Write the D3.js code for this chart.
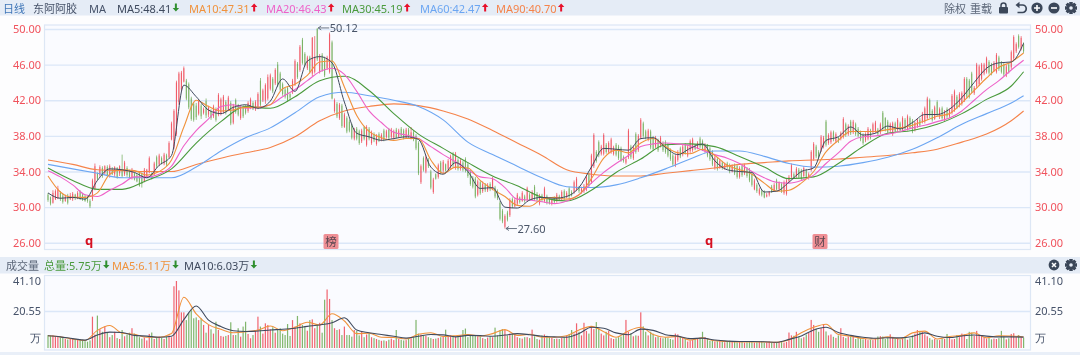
<!DOCTYPE html>
<html>
<head>
<meta charset="utf-8">
<script src="https://cdn.jsdelivr.net/npm/d3@7"></script>
<style>
  html, body { margin: 0; padding: 0; background: #fff; overflow: hidden; }
  svg { display: block; font-family: "Noto Sans", "Noto Sans CJK SC", sans-serif; filter: blur(0.3px); }
</style>
</head>
<body>
<div id="chart"></div>
<script>
// candles (10 bars a row)
const highs = [
  31.6,31.2,31.9,32.0,32.4,31.8,31.5,31.4,31.5,31.6,
  31.7,31.5,31.8,31.9,31.6,31.4,31.3,30.9,33.2,34.9,
  33.9,34.7,34.6,34.7,34.7,34.8,34.5,34.6,34.5,34.7,
  35.9,35.2,34.6,34.2,34.4,33.9,33.8,34.0,33.9,34.4,
  34.3,35.7,33.9,35.1,35.8,36.0,35.7,36.1,36.0,37.4,
  39.6,41.0,44.2,45.2,45.3,45.8,44.4,44.0,42.4,41.8,
  41.7,42.1,41.6,41.2,42.2,41.4,41.0,41.5,41.2,42.8,
  42.3,42.6,42.0,42.5,41.9,41.6,42.2,41.6,41.4,41.4,
  41.5,41.9,42.3,41.9,42.0,42.9,44.5,43.3,43.9,44.9,
  45.0,44.6,45.6,46.3,45.2,44.0,43.4,43.6,42.8,44.4,
  46.6,46.3,48.2,49.0,47.4,47.0,47.0,49.1,49.2,50.12,
  47.2,47.3,46.9,47.0,49.6,48.7,42.2,41.8,41.7,41.6,
  40.6,40.2,39.8,39.4,38.9,39.0,38.7,38.8,39.1,39.2,
  39.0,38.6,38.4,38.2,38.4,38.3,38.8,38.7,38.9,38.9,
  38.7,38.9,38.8,39.0,38.8,38.9,38.9,39.0,38.6,38.2,
  37.4,34.8,35.7,35.8,35.5,34.2,33.3,33.8,34.9,35.2,
  35.3,34.9,35.4,35.9,36.2,36.2,35.5,35.4,35.2,35.6,
  35.0,34.2,33.5,33.4,33.1,33.0,32.9,32.7,32.7,32.8,
  33.4,32.4,32.0,30.7,29.8,29.2,29.6,31.0,31.1,31.0,
  31.6,31.2,31.8,31.4,32.3,31.6,31.9,32.5,31.7,31.5,
  31.5,32.3,31.4,31.0,30.9,31.2,31.6,31.4,31.9,32.0,
  31.8,32.3,31.9,33.0,33.4,32.4,32.3,32.6,33.6,33.9,
  36.0,38.3,36.4,37.5,37.0,38.3,37.2,37.4,37.8,36.9,
  37.2,37.0,36.8,35.8,35.6,38.8,37.0,36.9,38.4,38.2,
  40.0,39.6,38.7,38.8,38.7,38.0,38.0,37.7,38.0,37.4,
  37.5,37.2,36.6,36.0,35.9,36.4,36.8,37.0,37.2,37.0,
  37.6,37.8,37.1,37.4,37.9,37.6,37.2,37.1,36.8,36.4,
  35.8,35.6,35.4,35.2,35.0,35.1,34.9,34.8,34.9,34.8,
  34.6,34.8,34.9,34.5,34.4,33.9,33.2,32.7,32.2,32.0,
  31.9,31.6,31.8,32.5,32.7,33.2,32.9,32.8,33.0,33.2,
  33.6,34.9,33.9,34.5,34.4,34.3,34.6,34.3,33.9,36.4,
  37.3,37.0,36.4,38.1,38.0,39.8,38.3,38.6,38.6,38.4,
  37.9,38.5,40.1,39.5,39.3,39.8,39.8,39.5,39.0,38.6,
  38.3,38.4,39.0,38.8,39.5,39.7,38.9,39.5,40.8,40.1,
  39.8,39.5,39.6,39.6,40.0,39.6,40.2,40.0,40.4,40.2,
  39.9,39.6,40.0,40.0,40.7,41.3,42.4,42.2,41.0,41.4,
  42.0,41.2,41.3,40.9,41.2,41.1,42.7,43.2,42.6,42.9,
  43.0,44.6,44.6,44.4,45.2,43.6,46.2,46.0,46.2,46.2,
  46.9,46.5,46.2,46.4,47.3,47.0,46.4,46.2,46.0,46.2,
  47.6,49.3,48.5,49.4,49.2,48.5
];
const lows = [
  30.6,30.2,30.4,30.8,30.9,30.7,30.4,30.6,30.3,30.8,
  30.7,30.8,30.9,30.8,30.7,30.6,30.5,29.9,30.7,31.9,
  33.0,33.4,33.3,33.6,33.4,33.3,33.6,33.4,33.2,33.5,
  33.3,33.5,33.4,33.2,33.1,33.0,32.8,32.3,32.2,32.8,
  33.3,33.8,33.1,33.5,34.4,34.6,34.8,34.7,34.6,35.5,
  37.5,36.5,38.0,41.5,43.0,44.0,42.0,41.0,39.7,39.6,
  39.8,40.3,39.9,40.4,40.0,40.1,39.8,40.0,39.6,40.2,
  40.3,40.5,40.4,40.8,39.2,39.3,40.5,40.2,39.8,40.0,
  40.4,40.6,41.0,40.9,40.8,41.0,41.2,41.8,41.6,42.0,
  43.1,42.8,43.7,43.5,43.0,42.5,42.2,41.8,42.0,42.7,
  43.6,44.4,45.2,46.0,45.8,45.4,45.0,44.7,45.0,46.4,
  45.0,45.2,44.6,45.4,45.0,42.1,40.6,40.0,39.8,38.9,
  38.9,38.3,38.4,37.6,37.5,37.5,37.0,37.2,37.5,36.8,
  37.5,37.0,37.3,36.9,37.3,37.4,37.4,37.7,37.6,37.7,
  37.6,37.7,37.8,37.9,37.6,37.7,37.8,37.6,37.4,36.4,
  33.6,32.6,34.0,33.8,34.4,32.0,31.5,33.1,33.2,33.7,
  33.8,34.0,34.1,34.3,34.5,34.2,34.1,34.1,34.0,33.9,
  33.3,32.4,32.1,31.0,31.2,31.4,31.6,31.7,31.7,31.8,
  31.9,31.0,30.8,28.5,28.2,27.6,28.4,28.9,29.9,30.0,
  30.2,30.4,30.6,30.5,30.6,30.7,30.8,30.7,30.6,30.2,
  30.6,30.5,30.3,30.3,30.2,30.4,30.5,30.7,30.8,30.8,
  31.0,30.9,31.2,31.5,31.8,31.6,31.5,31.6,31.8,32.2,
  32.6,34.4,35.0,35.6,35.8,35.8,36.0,36.0,36.0,35.8,
  35.7,35.3,35.1,35.0,34.8,35.4,35.4,35.3,36.0,36.2,
  37.6,37.8,37.6,37.4,36.5,36.3,36.6,36.2,36.7,36.2,
  36.0,35.6,35.2,34.6,34.5,35.1,35.5,35.7,35.9,35.6,
  36.0,36.2,36.4,36.5,36.6,36.3,36.1,35.6,35.2,34.6,
  34.2,34.1,34.3,34.2,34.2,34.3,33.8,33.9,33.6,33.2,
  33.2,33.4,33.6,33.3,32.8,32.3,31.9,31.6,31.3,31.2,
  31.0,31.1,31.2,31.6,31.8,31.9,31.8,31.6,31.4,31.3,
  32.8,33.2,33.2,33.3,33.2,33.0,33.3,33.2,33.1,34.0,
  35.2,35.5,35.4,36.2,36.6,36.8,37.0,37.1,37.4,37.2,
  37.2,37.5,37.7,37.9,38.0,38.1,38.2,38.0,37.8,37.4,
  37.0,37.3,37.5,37.6,38.2,38.3,38.0,38.2,38.6,38.5,
  38.2,38.4,38.0,38.3,38.5,38.4,38.5,38.6,38.6,38.8,
  38.3,38.5,38.9,39.0,39.4,39.4,39.8,40.0,39.6,39.8,
  40.2,39.9,39.8,39.6,39.9,40.0,40.4,40.7,41.0,41.2,
  41.4,41.8,42.2,42.2,42.8,42.6,43.4,43.6,44.2,44.8,
  45.0,44.9,44.8,45.2,45.0,45.3,45.0,44.7,44.6,45.0,
  45.5,46.5,47.3,47.8,47.6,47.3
];
const opens = [
  31.4,31.1,30.5,30.9,31.0,31.6,31.3,30.7,31.3,30.9,
  30.9,31.4,31.0,31.7,31.4,31.2,31.1,30.7,30.9,32.1,
  33.8,33.6,34.4,33.8,34.5,33.6,34.2,33.7,34.4,33.8,
  34.2,33.7,34.4,34.0,33.3,33.8,33.6,33.9,33.7,32.9,
  33.4,33.9,33.8,33.7,35.6,34.8,35.5,34.9,35.8,35.6,
  37.6,36.7,38.2,41.8,43.2,44.1,44.2,43.8,42.2,41.6,
  41.4,40.5,41.4,40.6,41.9,40.4,40.8,40.2,41.0,40.4,
  40.5,40.7,41.8,40.9,41.7,39.5,42.0,41.4,40.0,41.2,
  41.3,40.8,41.1,41.7,41.0,41.2,44.2,42.0,42.0,42.2,
  43.3,44.4,43.9,46.0,45.0,43.8,43.2,43.4,42.7,42.9,
  43.8,46.1,45.4,48.8,47.2,45.6,46.8,45.0,45.2,50.0,
  45.2,47.1,46.7,45.6,45.2,48.5,40.8,41.6,40.0,41.4,
  39.0,40.0,39.6,39.2,37.7,38.8,38.5,37.4,39.0,37.0,
  38.8,37.2,38.2,37.1,38.2,37.6,38.6,37.9,38.7,37.9,
  37.8,38.7,37.9,38.8,38.6,37.8,38.7,37.8,38.4,38.0,
  37.2,32.8,35.5,34.0,35.3,34.0,31.7,33.7,33.4,35.0,
  34.1,34.8,34.3,34.5,36.0,34.4,35.3,34.3,35.0,35.4,
  34.8,34.0,33.3,33.2,31.4,32.8,31.8,32.5,31.9,32.6,
  32.0,32.2,31.8,30.5,29.6,27.8,29.4,29.1,30.9,30.1,
  30.4,31.1,30.7,31.2,30.8,31.4,30.9,32.3,31.5,30.4,
  31.3,30.7,31.2,30.9,30.4,31.0,30.7,31.2,30.9,31.8,
  31.1,32.1,31.7,31.7,32.0,32.2,31.7,31.8,32.0,33.7,
  32.8,34.6,36.2,37.3,36.0,36.0,37.0,36.2,36.2,36.0,
  37.0,36.8,36.6,35.6,35.0,35.6,36.8,35.5,38.2,36.4,
  37.8,39.4,38.5,37.6,38.5,37.8,36.8,37.5,36.9,37.2,
  37.3,37.0,36.4,35.8,34.7,35.3,36.6,35.9,37.0,35.8,
  36.3,36.4,37.0,36.6,37.7,37.4,36.3,37.0,36.6,36.2,
  34.4,35.4,34.5,35.0,34.4,34.9,34.7,34.0,34.7,34.6,
  33.4,34.6,33.8,34.3,34.2,33.7,32.0,32.5,31.5,31.8,
  31.8,31.2,31.4,32.3,31.9,33.0,32.0,32.6,31.6,31.5,
  32.9,33.4,33.7,33.5,34.2,34.1,33.5,34.1,33.3,34.2,
  35.4,36.8,36.2,36.4,36.8,39.6,37.2,37.3,38.4,37.4,
  37.8,37.7,37.9,39.3,38.2,39.6,38.4,39.3,38.8,38.4,
  38.1,37.5,37.7,38.6,38.4,38.5,38.7,38.4,40.6,40.0,
  39.6,38.6,38.2,39.4,38.7,39.4,38.7,39.8,38.8,40.0,
  39.7,38.7,39.1,39.8,39.6,39.6,40.0,42.0,40.8,39.9,
  41.8,40.2,41.1,39.8,41.0,40.2,40.6,40.9,42.4,41.4,
  41.6,42.0,44.4,44.2,45.0,42.8,43.6,43.8,44.4,45.0,
  45.2,46.3,46.0,45.3,45.2,46.8,46.2,46.0,44.8,46.0,
  45.7,46.7,47.5,49.2,47.8,48.3
];
const closes = [
  30.8,30.4,31.6,31.8,32.1,30.9,30.6,31.2,30.5,31.3,
  31.5,31.0,31.6,31.0,30.9,30.7,30.7,30.1,33.0,34.6,
  33.2,34.5,33.5,34.6,33.6,34.6,33.7,34.5,33.4,34.6,
  33.5,35.0,33.6,33.3,34.2,33.1,32.9,32.4,32.6,34.2,
  34.2,35.5,33.2,34.9,34.6,35.8,34.9,35.9,34.8,37.2,
  39.4,40.8,44.0,45.0,45.1,45.6,42.2,41.2,39.9,39.8,
  40.1,41.9,40.2,41.0,40.3,41.2,40.0,41.3,39.8,42.6,
  42.1,42.4,40.6,42.3,39.4,41.4,40.7,40.4,41.2,40.2,
  40.6,41.7,42.1,41.0,41.8,42.7,41.5,43.1,43.7,44.6,
  44.8,43.0,45.4,43.7,43.2,42.7,42.4,42.0,42.3,44.2,
  46.4,44.6,48.0,46.2,46.0,46.8,45.2,49.0,46.8,46.6,
  47.0,45.4,44.8,46.8,49.4,42.2,42.0,40.2,41.5,39.1,
  40.4,38.5,38.6,37.8,38.7,37.7,37.2,38.6,37.7,39.0,
  37.7,38.4,37.5,38.0,37.5,38.1,37.6,38.5,37.8,38.7,
  38.5,37.8,38.6,38.0,37.8,38.7,37.9,38.4,37.6,36.6,
  33.8,34.6,34.2,35.6,34.6,32.2,33.1,33.2,34.7,33.9,
  35.1,34.1,35.2,35.7,34.7,36.0,34.3,35.2,34.2,34.1,
  33.5,32.6,32.3,31.2,32.9,31.6,32.6,31.9,32.5,32.0,
  33.2,31.2,31.0,28.7,28.4,29.0,28.6,30.8,30.1,30.8,
  31.4,30.6,31.6,30.7,32.1,30.8,31.7,30.9,30.8,31.3,
  30.8,32.1,30.5,30.4,30.8,30.6,31.4,30.9,31.7,31.0,
  31.6,31.2,31.3,32.8,33.2,31.8,32.1,32.4,33.4,32.4,
  35.8,38.1,35.2,35.8,36.8,38.1,36.2,37.2,37.6,36.7,
  35.9,35.5,35.3,35.2,35.4,38.6,35.6,36.7,36.2,38.0,
  39.8,38.0,37.8,38.6,36.7,36.5,37.8,36.4,37.8,36.4,
  36.2,35.8,35.4,34.8,35.7,36.2,35.7,36.8,36.1,36.8,
  37.4,37.6,36.5,37.2,36.8,36.5,37.0,35.8,35.4,34.8,
  35.6,34.3,35.2,34.4,34.8,34.5,34.0,34.6,33.8,33.4,
  34.4,33.6,34.7,33.5,33.0,32.5,33.0,31.8,32.0,31.4,
  31.1,31.4,31.7,31.7,32.5,32.0,32.7,31.8,32.8,33.0,
  33.4,34.7,33.3,34.3,33.4,33.2,34.4,33.4,33.7,36.2,
  37.1,35.7,35.6,37.9,37.8,37.0,38.1,38.4,37.6,38.2,
  37.4,38.3,39.9,38.1,39.1,38.3,39.6,38.2,38.0,37.6,
  37.2,38.2,38.8,37.8,39.3,39.5,38.2,39.3,38.8,38.7,
  38.4,39.3,39.4,38.5,39.8,38.6,40.0,38.8,40.2,38.9,
  38.5,39.5,39.8,39.2,40.5,41.1,42.2,40.3,39.8,41.2,
  40.4,41.0,40.0,40.7,40.2,40.9,42.5,43.0,41.2,42.7,
  42.8,44.4,42.4,42.4,43.0,43.4,46.0,45.8,46.0,46.0,
  46.7,45.1,45.0,46.2,47.1,45.5,45.2,44.9,45.8,45.2,
  47.4,49.1,48.3,48.0,49.0,47.5
];
const volumes = [
  7.2,6.8,7.0,6.5,6.2,5.8,5.6,5.0,4.7,5.2,
  5.0,4.6,4.4,4.8,4.6,3.8,3.5,4.2,17.4,7.5,
  18.0,10.4,9.0,12.0,8.5,6.0,7.2,9.0,5.5,5.0,
  10.0,6.5,7.5,8.5,11.0,8.0,7.2,6.0,5.2,5.8,
  4.2,7.8,8.6,5.0,5.8,6.4,5.6,5.0,6.2,7.0,
  6.0,37.5,41.1,34.7,19.8,19.8,15.5,19.6,21.4,16.5,
  17.0,15.5,16.5,12.8,8.5,12.8,10.4,8.0,14.6,10.0,
  6.7,6.3,6.7,7.2,14.3,7.2,7.2,11.0,6.3,11.9,
  14.6,7.8,5.4,7.2,10.0,17.4,11.9,8.0,13.7,12.8,
  10.4,11.5,8.5,10.0,11.0,8.0,7.2,13.3,6.7,15.5,
  11.9,17.8,13.7,12.8,11.9,9.6,15.5,15.9,11.0,12.8,
  14.0,8.5,28.3,35.3,28.8,15.5,11.0,10.0,10.4,7.2,
  11.9,7.2,7.2,6.3,10.0,9.5,7.0,9.0,6.0,7.5,
  8.0,6.0,5.5,5.0,4.5,4.0,4.2,3.8,4.6,5.2,
  4.4,10.0,5.0,4.6,4.2,4.4,5.0,5.5,6.0,15.6,
  8.0,7.5,7.0,6.8,6.0,5.5,5.0,5.2,5.6,6.0,
  6.2,10.2,6.5,7.0,6.8,6.4,6.0,7.0,10.0,10.8,
  6.0,7.2,7.0,6.8,6.5,6.2,5.5,5.0,5.8,6.5,
  6.0,11.3,7.0,10.0,10.5,10.0,7.0,8.0,8.0,7.5,
  6.0,5.5,5.2,6.0,6.0,5.5,10.2,6.5,5.0,4.6,
  7.0,7.5,6.8,6.0,5.6,5.0,5.2,5.0,5.6,6.0,
  7.0,7.6,10.0,8.0,13.7,9.0,7.0,14.0,9.5,8.0,
  12.0,10.5,14.4,11.0,8.0,7.0,9.0,9.5,5.5,5.0,
  5.4,6.0,6.4,7.6,15.6,9.0,8.2,6.5,7.0,6.8,
  19.8,12.0,9.0,7.0,9.0,8.0,6.0,6.5,5.8,5.4,
  6.0,5.5,5.0,4.6,8.0,7.6,6.4,5.8,5.0,3.6,
  4.0,4.4,5.0,5.4,5.6,9.0,6.0,5.4,4.0,4.2,
  3.6,3.8,4.2,3.6,3.2,3.8,4.0,3.6,3.4,3.2,
  3.4,3.6,3.0,3.2,3.8,3.4,3.0,3.2,3.6,3.8,
  3.0,3.2,3.6,3.2,2.8,3.0,3.4,3.6,3.0,3.4,
  8.6,7.0,6.8,9.0,6.2,5.4,6.0,7.5,8.4,15.6,
  12.8,10.8,9.0,11.0,13.3,9.2,7.0,7.5,6.2,5.6,
  7.0,11.0,6.2,5.5,6.4,7.0,6.8,5.0,6.0,5.4,
  4.8,5.0,4.4,4.6,4.4,5.2,6.4,6.6,6.4,5.0,
  5.8,7.6,6.2,5.0,5.4,4.6,5.0,6.2,4.6,5.4,
  7.0,8.0,10.0,9.5,8.8,7.6,6.5,5.5,4.6,5.0,
  4.6,4.4,5.2,5.0,7.8,6.4,4.8,5.0,7.2,6.0,
  8.0,7.6,5.0,9.0,8.5,6.8,9.5,7.0,7.2,6.0,
  5.2,6.0,4.8,5.2,5.0,5.5,9.5,6.4,4.8,5.4,
  7.8,8.2,6.4,7.2,6.0,5.75
];

// averages, sampled every 5 bars (fast) or every 10 bars (slow)
const fastIdx = d3.range(0, 396, 5);
const slowIdx = d3.range(0, 391, 10).concat(395);

const ma5 = [31.6,31.0,31.1,30.9,33.0,34.3,34.2,33.9,33.3,34.7,35.8,43.7,42.4,40.9,40.5,41.2,41.5,41.1,41.9,44.4,
  43.0,46.4,46.9,46.2,41.8,38.3,37.9,37.5,37.7,37.9,37.6,34.5,33.7,35.0,34.0,32.1,32.2,30.0,29.9,30.8,
  31.1,31.0,31.2,32.2,34.5,36.6,36.5,36.4,37.7,37.8,36.7,35.9,36.6,37.1,35.2,34.2,34.0,33.9,31.7,31.8,
  32.8,34.0,34.4,37.5,37.9,39.0,38.1,38.3,39.1,38.8,39.5,40.4,40.4,41.0,42.3,44.0,45.6,46.2,46.3,48.4];
const ma10 = [33.5,31.7,31.1,31.1,31.6,33.7,34.2,34.1,33.6,34.0,35.3,39.0,42.0,41.3,40.8,40.9,41.2,41.2,41.5,43.3,
  43.8,44.8,46.3,46.4,43.5,40.3,38.5,37.8,37.5,37.7,37.7,35.3,33.8,34.5,34.4,33.0,32.0,31.2,30.2,30.1,
  30.9,31.1,30.9,31.4,33.2,35.5,36.4,36.1,37.2,37.7,36.8,36.1,36.0,36.5,35.8,34.7,34.2,33.7,32.7,31.8,
  31.9,32.7,34.0,36.2,37.5,38.5,38.5,38.5,38.7,38.9,39.2,39.7,40.2,40.5,41.7,43.1,44.5,45.7,46.3,47.3];
const ma20 = [34.1,33.4,32.5,31.4,31.2,31.9,32.6,33.4,33.4,33.7,34.6,36.9,38.6,39.9,41.3,41.5,41.1,41.2,41.5,42.4,
  43.2,44.2,45.2,45.6,44.9,43.0,40.8,39.5,38.4,38.1,37.7,36.8,35.9,35.1,34.2,33.4,33.2,32.2,30.9,30.8,
  30.6,30.4,30.7,31.4,32.7,33.9,34.9,35.8,36.8,37.1,37.2,37.1,36.9,36.4,35.9,35.5,34.9,34.0,33.3,32.8,
  32.7,33.0,33.6,34.9,36.1,37.4,37.9,38.0,38.2,38.5,38.9,39.2,39.6,40.0,40.8,42.0,43.2,44.2,45.4,46.5];
const ma30 = [34.4,33.0,32.0,32.0,33.0,34.3,37.2,39.6,41.3,41.1,42.4,44.2,44.7,43.1,40.5,38.2,36.6,35.0,33.5,32.4,
  31.1,30.7,31.9,33.9,35.4,37.0,37.1,36.8,35.7,34.5,33.2,33.4,34.9,36.8,38.3,38.6,39.3,40.5,42.1,43.6,45.2];
const ma60 = [34.8,34.3,33.8,33.3,33.3,33.3,34.5,36.3,37.8,38.9,40.6,42.4,42.9,42.5,42.0,41.3,39.8,37.3,35.9,34.6,
  33.3,32.3,32.2,32.5,33.3,34.3,35.4,36.3,36.3,35.7,34.9,34.5,34.6,35.0,35.6,36.5,37.8,39.3,40.5,41.7,42.5];
const ma90 = [35.3,34.8,34.2,34.1,34.0,34.0,34.8,35.5,36.1,36.7,37.9,39.7,40.8,41.3,41.6,41.4,40.8,39.9,38.6,37.2,
  35.8,34.2,33.7,33.5,33.5,33.8,34.1,34.4,34.8,35.0,35.2,35.3,35.4,35.6,35.8,36.1,36.5,37.3,38.2,39.7,40.8];

const volMa5 = [6.8,6.2,5.0,4.2,9.8,12.5,8.2,7.6,6.0,6.0,8.0,30.0,19.0,13.0,10.4,8.5,9.0,10.0,12.2,9.6,
  11.5,14.3,12.8,19.0,15.0,8.0,8.2,6.0,5.8,5.0,7.6,8.5,6.4,6.8,7.5,6.6,8.0,10.2,7.0,7.6,
  6.0,6.0,6.8,10.0,12.0,9.0,6.0,9.5,11.5,7.5,6.0,6.4,4.4,5.6,4.0,3.6,3.3,3.3,3.3,3.1,
  4.6,8.5,11.5,13.2,7.5,6.6,5.3,5.0,6.2,5.0,8.4,9.4,5.0,6.4,7.0,8.4,5.6,6.8,6.7,6.11];
const volMa10 = [6.8,6.2,5.2,4.4,7.2,8.8,8.6,7.0,6.6,6.0,6.5,15.8,24.0,15.5,11.9,9.6,9.2,9.4,10.0,10.4,
  11.0,12.0,12.8,14.0,16.8,10.0,8.5,7.5,6.5,5.5,6.5,7.5,7.3,6.2,7.0,6.9,6.5,7.2,8.0,7.4,
  6.5,6.2,6.0,8.0,11.5,11.0,8.4,7.4,10.5,9.8,7.4,6.6,5.2,5.5,4.4,3.8,3.6,3.6,3.5,3.2,
  4.8,6.7,10.0,11.5,8.6,7.0,6.0,5.4,5.7,5.6,6.4,8.4,6.5,5.8,6.7,7.2,6.6,6.2,6.2,6.03];

const priceTicks = [26, 30, 34, 38, 42, 46, 50];
const volTicks = [0, 20.55, 41.10];

const maNames = ["MA5", "MA10", "MA20", "MA30", "MA60", "MA90"];
const maLast = ["48.41", "47.31", "46.43", "45.19", "42.47", "40.70"];
const maRising = [false, true, true, true, true, true];

const width = 1080, height = 355;
const red = "#ee3d4b", green = "#63a548", tickRed = "#f0525c", slate = "#47536a";
const maColors = ["#3f4a5e", "#f0923c", "#ee62c8", "#4a9a3c", "#6ca6f2", "#f5834a"];

const svg = d3.select("#chart").append("svg")
  .attr("width", width).attr("height", height);

// backdrop and header bands
svg.append("rect").attr("width", width).attr("height", height).attr("fill", "#fdfdfe");
svg.append("rect").attr("width", width).attr("height", 15.5).attr("fill", "#e5ecf6");
svg.append("rect").attr("y", 257).attr("width", width).attr("height", 16.5).attr("fill", "#e5ecf6");
svg.append("rect").attr("y", 352).attr("width", width).attr("height", 3).attr("fill", "#e9eff8");

const frames = [[25, 249.5], [275.5, 350]];
frames.forEach(f => {
  svg.append("rect")
    .attr("x", 44.5).attr("y", f[0])
    .attr("width", 986).attr("height", f[1] - f[0])
    .attr("fill", "#fafbff").attr("stroke", "#dde7f5").attr("stroke-width", 1.2);
});

// scales
const x = d3.scaleLinear().domain([0, 395]).range([48, 1023.6]);
const y = d3.scaleLinear().domain([26, 50]).range([242.8, 29]);
// the volume axis of the source is not linear: bottom half is stretched
const yVol = d3.scaleLinear().domain(volTicks).range([348, 311, 281]);

// grid lines + tick labels through d3 axes
function styleAxis(g, color) {
  g.select(".domain").remove();
  g.selectAll("line").attr("stroke", "#dbe7f8").attr("stroke-width", 1.4);
  g.selectAll("text").attr("fill", color).attr("font-size", "11px")
    .attr("font-family", "\"Noto Sans\", sans-serif");
}

svg.append("g").attr("transform", "translate(45,0)")
  .call(d3.axisRight(y).tickValues(priceTicks).tickSize(985).tickFormat(""))
  .call(g => styleAxis(g, tickRed));
svg.append("g").attr("transform", "translate(45,0)")
  .call(d3.axisLeft(y).tickValues(priceTicks).tickSize(0).tickPadding(4).tickFormat(d3.format(".2f")))
  .call(g => styleAxis(g, tickRed));
svg.append("g").attr("transform", "translate(1030,0)")
  .call(d3.axisRight(y).tickValues(priceTicks).tickSize(0).tickPadding(5).tickFormat(d3.format(".2f")))
  .call(g => styleAxis(g, tickRed));

const volLabel = d => d === 0 ? "万" : d3.format(".2f")(d);
svg.append("g").attr("transform", "translate(45,0)")
  .call(d3.axisRight(yVol).tickValues([20.55]).tickSize(985).tickFormat(""))
  .call(g => styleAxis(g, slate));
const volAxisLeft = svg.append("g").attr("transform", "translate(45,0)")
  .call(d3.axisLeft(yVol).tickValues(volTicks).tickSize(0).tickPadding(4).tickFormat(volLabel))
  .call(g => styleAxis(g, slate));
const volAxisRight = svg.append("g").attr("transform", "translate(1030,0)")
  .call(d3.axisRight(yVol).tickValues(volTicks).tickSize(0).tickPadding(5).tickFormat(volLabel))
  .call(g => styleAxis(g, slate));
// 万 sits a little above the baseline in the source
[volAxisLeft, volAxisRight].forEach(a => {
  a.selectAll(".tick").filter(d => d === 0).select("text").attr("dy", "-0.55em");
});

// candles
const bars = d3.range(highs.length);
const isUp = i => closes[i] >= opens[i];

svg.append("g").selectAll("rect").data(bars).enter().append("rect")
  .attr("x", i => x(i) - 0.4).attr("width", 0.8)
  .attr("y", i => y(highs[i]))
  .attr("height", i => y(lows[i]) - y(highs[i]))
  .attr("fill", i => isUp(i) ? red : green)
  .attr("fill-opacity", 0.8);

svg.append("g").selectAll("rect").data(bars).enter().append("rect")
  .attr("x", i => x(i) - 0.6).attr("width", 1.2)
  .attr("y", i => y(Math.max(opens[i], closes[i])))
  .attr("height", i => Math.max(1, Math.abs(y(opens[i]) - y(closes[i]))))
  .attr("fill", i => isUp(i) ? red : green)
  .attr("fill-opacity", 0.55);

// moving averages
function drawLine(idx, values, scale, color, w) {
  const line = d3.line()
    .x((d, k) => x(idx[k]))
    .y(d => scale(d))
    .curve(d3.curveMonotoneX);
  svg.append("path").datum(values)
    .attr("d", line)
    .attr("fill", "none")
    .attr("stroke", color)
    .attr("stroke-width", w);
}
drawLine(slowIdx, ma90, y, maColors[5], 1.1);
drawLine(slowIdx, ma60, y, maColors[4], 1.1);
drawLine(slowIdx, ma30, y, maColors[3], 1.1);
drawLine(fastIdx, ma20, y, maColors[2], 1.1);
drawLine(fastIdx, ma10, y, maColors[1], 1.1);
drawLine(fastIdx, ma5, y, maColors[0], 1.0);

// volume bars
svg.append("g").selectAll("rect").data(bars).enter().append("rect")
  .attr("x", i => x(i) - 0.6).attr("width", 1.2)
  .attr("y", i => yVol(volumes[i]))
  .attr("height", i => yVol(0) - yVol(volumes[i]))
  .attr("fill", i => isUp(i) ? red : green)
  .attr("fill-opacity", 0.8);

drawLine(fastIdx, volMa5, yVol, maColors[1], 1.1);
drawLine(fastIdx, volMa10, yVol, maColors[0], 1.1);

// small up / down arrows behind the legend numbers
function arrow(ax, ay, up) {
  const s = up ? 1 : -1;
  svg.append("path")
    .attr("d", `M${ax},${ay - 4 * s}L${ax + 3.2},${ay - 0.5 * s}L${ax + 1},${ay - 0.5 * s}L${ax + 1},${ay + 4 * s}L${ax - 1},${ay + 4 * s}L${ax - 1},${ay - 0.5 * s}L${ax - 3.2},${ay - 0.5 * s}Z`)
    .attr("fill", up ? "#e8102a" : "#2f8f2f");
}

function label(tx, ty, text, color, size, anchor) {
  return svg.append("text")
    .attr("x", tx).attr("y", ty)
    .attr("fill", color)
    .attr("font-size", (size || 11) + "px")
    .attr("text-anchor", anchor || "start")
    .attr("dominant-baseline", "central")
    .text(text);
}

// top legend
label(3, 8, "日线", "#3f76b8");
label(33, 8, "东阿阿胶", slate);
label(89, 8, "MA", slate);
const legendX = [117, 189, 266, 342, 420, 496];
maNames.forEach((n, k) => {
  const t = label(legendX[k], 8, `${n}:${maLast[k]}`, maColors[k]);
  const end = legendX[k] + t.node().getComputedTextLength();
  arrow(end + 4.5, 7.5, maRising[k]);
});
label(944, 8, "除权", "#5b6678");
label(970, 8, "重载", "#5b6678");

// volume legend
label(6, 265, "成交量", "#5b6678");
const volLegend = [["总量:5.75万", maColors[3], 44], ["MA5:6.11万", maColors[1], 112], ["MA10:6.03万", maColors[0], 184]];
volLegend.forEach(v => {
  const t = label(v[2], 265, v[0], v[1]);
  arrow(v[2] + t.node().getComputedTextLength() + 4.5, 264.5, false);
});

// high / low notes
function note(i, value, text) {
  const ax = x(i) + 1, ay = y(value);
  svg.append("path")
    .attr("d", `M${ax},${ay}h11M${ax},${ay}l3,-2M${ax},${ay}l3,2`)
    .attr("stroke", "#5b6678").attr("fill", "none").attr("stroke-width", 0.9);
  label(ax + 11.5, ay, text, "#4a5568");
}
note(109, 50.12, "50.12");
note(185, 27.60, "27.60");

// event markers under the candles
[[89, "q"], [709, "q"]].forEach(m => {
  label(m[0], 240, m[1], "#d60f20", 13, "middle").attr("font-weight", 700);
});
[[331, "榜"], [820, "财"]].forEach(m => {
  svg.append("rect").attr("x", m[0] - 7.5).attr("y", 234).attr("width", 15).attr("height", 15)
    .attr("rx", 1.5).attr("fill", "#ef8f95");
  label(m[0], 241.5, m[1], "#5b4650", 11.5, "middle");
});

// toolbar icons
const iconColor = "#3b4759";
function circleIcon(cx, cy, r) {
  svg.append("circle").attr("cx", cx).attr("cy", cy).attr("r", r).attr("fill", iconColor);
}
function gear(cx, cy) {
  const teeth = d3.range(8);
  svg.append("g").selectAll("rect").data(teeth).enter().append("rect")
    .attr("x", cx - 1.5).attr("y", cy - 6).attr("width", 3).attr("height", 12)
    .attr("transform", d => `rotate(${d * 45},${cx},${cy})`)
    .attr("fill", iconColor);
  circleIcon(cx, cy, 4.2);
  svg.append("circle").attr("cx", cx).attr("cy", cy).attr("r", 1.8).attr("fill", "#e5ecf6");
}
// lock
svg.append("rect").attr("x", 999).attr("y", 7).attr("width", 9).attr("height", 6.5).attr("rx", 1).attr("fill", iconColor);
svg.append("path").attr("d", "M1001,7.5V5.5a2.5,2.5 0 0 1 5,0V7.5").attr("fill", "none").attr("stroke", iconColor).attr("stroke-width", 1.5);
// undo
svg.append("path").attr("d", "M1017,5h5.5a3.5,3.5 0 0 1 0,7.5h-5").attr("fill", "none").attr("stroke", iconColor).attr("stroke-width", 1.7);
svg.append("path").attr("d", "M1019.5,1.8L1015.5,5L1019.5,8.2Z").attr("fill", iconColor);
// plus / minus
circleIcon(1037, 8, 5.6);
svg.append("path").attr("d", "M1034,8h6M1037,5v6").attr("stroke", "#fff").attr("stroke-width", 1.6);
circleIcon(1054, 8, 5.6);
svg.append("path").attr("d", "M1051,8h6").attr("stroke", "#fff").attr("stroke-width", 1.6);
gear(1071, 8);
// volume pane close / settings
circleIcon(1054, 265, 5.4);
svg.append("path").attr("d", "M1052,263l4,4M1056,263l-4,4").attr("stroke", "#fff").attr("stroke-width", 1.5);
gear(1071, 265);
</script>
</body>
</html>
